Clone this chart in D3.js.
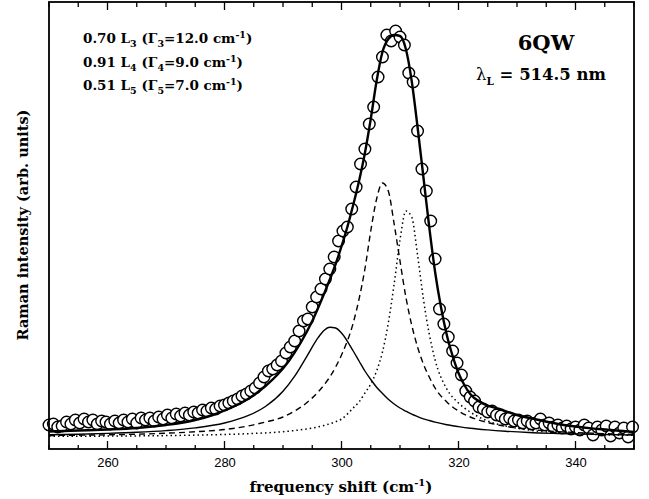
<!DOCTYPE html>
<html>
<head>
<meta charset="utf-8">
<script src="https://cdn.jsdelivr.net/npm/d3@7"></script>
<style>
  body { margin: 0; background: #fff; }
  .tick text { font-family: "Liberation Sans", Arial, sans-serif; font-size: 13px; }
  .lbl { font-family: "DejaVu Serif", serif; font-weight: bold; fill: #000; }
</style>
</head>
<body>
<div id="svgcontainer"></div>
<script>
// Raman intensity, arb. units (height above the x axis)
let obsX = d3.range(134).map(i => 250 + i * 0.75);
let obsY = [24, 25, 22, 23, 27, 25, 29, 26, 30, 27, 29, 25, 28, 27, 25, 28, 26, 29, 27, 30,
    26, 31, 29, 31, 28, 32, 30, 34, 31, 35, 33, 36, 34, 37, 36, 39, 38, 41, 40, 43,
    44, 46, 48, 50, 53, 55, 58, 61, 66, 72, 78, 80, 84, 88, 96, 102, 108, 118, 128, 130,
    142, 152, 160, 170, 180, 192, 208, 218, 222, 240, 262, 285, 300, 325, 342, 372, 392, 414, 408, 418,
    412, 404, 376, 367, 318, 280, 258, 228, 190, 140, 125, 112, 98, 86, 74, 58, 52, 48, 42, 40,
    37, 38, 34, 33, 30, 31, 28, 29, 26, 28, 25, 26, 30, 24, 26, 22, 24, 21, 23, 20,
    22, 19, 24, 21, 14, 22, 19, 23, 13, 22, 16, 21, 12, 22];

// fitted total (thick line)
let fitX = [250, 255, 260, 265, 270, 275, 278, 281, 284, 287, 289, 291, 293, 295, 297, 299, 301, 302, 303, 304,
    305, 306, 307, 308, 309, 310, 311, 312, 313, 314, 315, 316, 317, 318, 319, 320, 321, 322, 324, 327,
    330, 333, 338, 344, 350];
let fitY = [17.5, 18.5, 19.5, 21, 24, 29, 34, 41, 50, 63, 74, 88, 106, 128, 155, 185, 222, 244, 268, 296,
    330, 368, 397, 410, 414, 413, 400, 368, 322, 272, 222, 177, 142, 114, 93, 76, 64, 55, 46, 40,
    34, 30, 24, 20, 17];

// Lorentzian components L3 (solid), L4 (dashed), L5 (dotted)
let compX = [250, 255, 260, 265, 270, 275, 280, 284, 287, 290, 292, 294, 296, 297, 298, 299, 300, 302, 303, 304,
    305, 306, 307, 308, 309, 310, 311, 312, 313, 314, 315, 316, 318, 320, 322, 325, 328, 332, 337, 343, 350];
let l3Y = [14.3, 14.8, 15.6, 16.7, 18.4, 21.1, 26, 33.3, 42.5, 57.7, 72.8, 91.9, 111.3, 118.5, 121.8, 121, 116, 98, 88, 78,
    69.5, 61.8, 55.5, 49.7, 45, 41, 37.8, 34.8, 32.4, 30.2, 28.5, 26.9, 24.3, 22.4, 20.8, 19.1, 17.8, 16.5, 15.5, 14.6, 14];
let l4Y = [13.5, 13.8, 14.2, 14.8, 15.8, 17.2, 19.5, 23, 27, 32, 38, 46, 57, 64, 72, 82, 94, 126, 150, 180,
    218, 250, 266, 258, 225, 188, 152, 124, 102, 85, 72, 61, 47, 38, 32, 26.5, 22.7, 19.7, 17.4, 15.8, 14.6];
let l5Y = [12.7, 12.8, 12.9, 13.1, 13.4, 13.9, 14.5, 15.3, 16.1, 17.3, 18.5, 20, 22.1, 23.5, 25.2, 27.3, 29.9, 41, 47, 56,
    65, 78, 97, 126, 165, 209, 238, 232, 194, 150, 115, 89, 60, 46, 37, 28, 23, 19, 16.2, 14.6, 13.6];

let xTicks = [260, 280, 300, 320, 340];

let W = 649, H = 499;
let plot = { left: 49, right: 634, top: 2, bottom: 449 };

let svg = d3.select("#svgcontainer")
    .append("svg")
    .attr("width", W)
    .attr("height", H);

let x = d3.scaleLinear().domain([250, 350]).range([plot.left, plot.right]);
let y = d3.scaleLinear().domain([0, 447]).range([plot.bottom, plot.top]);

// bottom axis, ticks pointing inward
svg.append("g")
    .attr("transform", "translate(0," + plot.bottom + ")")
    .call(d3.axisBottom(x).tickValues(xTicks).tickSize(0).tickPadding(9).tickFormat(d3.format("d")))
    .call(g => g.select(".domain").remove());
let minor = d3.range(250, 351, 5);
svg.append("g").selectAll("line").data(minor).enter().append("line")
    .attr("x1", d => x(d)).attr("x2", d => x(d))
    .attr("y1", plot.bottom)
    .attr("y2", d => plot.bottom - (d % 20 === 0 ? 8 : 4))
    .attr("stroke", "#000").attr("stroke-width", 1.3);
svg.append("g").selectAll("line").data(minor).enter().append("line")
    .attr("x1", d => x(d)).attr("x2", d => x(d))
    .attr("y1", plot.top)
    .attr("y2", d => plot.top + (d % 20 === 0 ? 8 : 5))
    .attr("stroke", "#000").attr("stroke-width", 1.3);

// data circles
let obs = obsX.map((d, i) => ({ x: d, y: obsY[i] }));
svg.append("g").selectAll("circle").data(obs).enter().append("circle")
    .attr("cx", d => x(d.x))
    .attr("cy", d => y(d.y))
    .attr("r", 5.8)
    .attr("fill", "#fff")
    .attr("stroke", "#000")
    .attr("stroke-width", 1.4);

let line = d3.line().x(d => x(d[0])).y(d => y(d[1])).curve(d3.curveMonotoneX);
let comps = [
    { ys: l3Y, dash: null, w: 1.4 },
    { ys: l4Y, dash: "6,4", w: 1.4 },
    { ys: l5Y, dash: "1.5,3", w: 1.5 }
];
comps.forEach(c => {
    svg.append("path")
        .attr("d", line(compX.map((d, i) => [d, c.ys[i]])))
        .attr("fill", "none")
        .attr("stroke", "#000")
        .attr("stroke-width", c.w)
        .attr("stroke-dasharray", c.dash);
});
svg.append("path")
    .attr("d", line(fitX.map((d, i) => [d, fitY[i]])))
    .attr("fill", "none")
    .attr("stroke", "#000")
    .attr("stroke-width", 2.4);

// frame
svg.append("rect")
    .attr("x", plot.left).attr("y", plot.top)
    .attr("width", plot.right - plot.left).attr("height", plot.bottom - plot.top)
    .attr("fill", "none").attr("stroke", "#000").attr("stroke-width", 1.8);

// axis titles
let xt = svg.append("text").attr("class", "lbl")
    .attr("x", 341).attr("y", 492).attr("text-anchor", "middle").style("font-size", "15px");
xt.append("tspan").text("frequency shift (cm");
xt.append("tspan").attr("dy", -6).style("font-size", "10px").text("-1");
xt.append("tspan").attr("dy", 6).text(")");

svg.append("text").attr("class", "lbl")
    .attr("transform", "translate(23,225) rotate(-90)")
    .attr("text-anchor", "middle").attr("dy", "0.35em")
    .style("font-size", "14.5px")
    .text("Raman intensity (arb. units)");

// fit legend
let legend = [["0.70", "3", "12.0"], ["0.91", "4", "9.0"], ["0.51", "5", "7.0"]];
legend.forEach((r, i) => {
    let t = svg.append("text").attr("class", "lbl")
        .attr("x", 83).attr("y", 43 + i * 23.5).style("font-size", "13.5px");
    t.append("tspan").text(r[0] + " L");
    t.append("tspan").attr("dy", 4).style("font-size", "9.5px").text(r[1]);
    t.append("tspan").attr("dy", -4).text(" (\u0393");
    t.append("tspan").attr("dy", 4).style("font-size", "9.5px").text(r[1]);
    t.append("tspan").attr("dy", -4).text("=" + r[2] + " cm");
    t.append("tspan").attr("dy", -5).style("font-size", "9.5px").text("-1");
    t.append("tspan").attr("dy", 5).text(")");
});

svg.append("text").attr("class", "lbl")
    .attr("x", 546).attr("y", 50).attr("text-anchor", "middle")
    .style("font-size", "21px").text("6QW");
let lam = svg.append("text").attr("class", "lbl")
    .attr("x", 541).attr("y", 80).attr("text-anchor", "middle").style("font-size", "16.5px");
lam.append("tspan").style("font-weight", "normal").text("\u03bb");
lam.append("tspan").attr("dy", 5).style("font-size", "10.5px").text("L");
lam.append("tspan").attr("dy", -5).text(" = 514.5 nm");
</script>
</body>
</html>
